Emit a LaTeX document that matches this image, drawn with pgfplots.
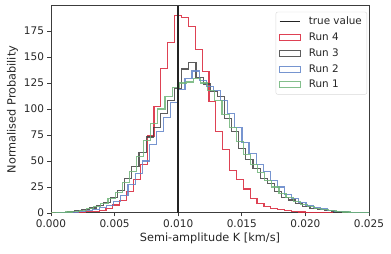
\documentclass[border=0pt]{standalone}
\usepackage{fontspec}
\setmainfont{DejaVu Sans}
\usepackage{pgfplots}
\usepackage{pgfplotstable}
\pgfplotsset{compat=1.18}
\definecolor{runred}{RGB}{218,45,65}
\definecolor{rungray}{RGB}{65,65,65}
\definecolor{runblue}{RGB}{95,130,200}
\definecolor{rungreen}{RGB}{110,180,120}
\definecolor{spine}{RGB}{60,60,60}
\definecolor{ticktext}{RGB}{38,38,38}
\definecolor{trueline}{RGB}{35,35,35}
\pgfplotsset{
  boxlegend/.style={legend image code/.code={\draw[##1, sharp corners] (0pt,-3pt) rectangle (20.5pt,3pt);}},
  linelegend/.style={legend image code/.code={\draw[##1, sharp corners] (0pt,0pt) -- (20.5pt,0pt);}},
}

% Run 4 (red)
\pgfplotstableread{
x y
0.00000 0
0.00000 0.1
0.00054 0.2
0.00108 0.3
0.00162 0.5
0.00216 0.8
0.00270 1.2
0.00324 1.8
0.00378 2.8
0.00432 4.5
0.00486 7.7
0.00540 12
0.00594 21
0.00648 32
0.00702 47
0.00756 74
0.00810 102
0.00864 139
0.00918 164
0.00972 190
0.01026 188
0.01080 179
0.01134 157
0.01188 136
0.01242 107
0.01296 78
0.01350 61
0.01404 41
0.01458 32
0.01512 23
0.01566 14
0.01620 9
0.01674 6.5
0.01728 4.5
0.01782 3
0.01836 2
0.01890 1.4
0.01944 0.9
0.01998 0.6
0.02052 0.4
0.02106 0.2
0.02160 0.1
0.02214 0
}\runfour

% Run 3 (gray)
\pgfplotstableread{
x y
0.00020 0
0.00020 0.3
0.00076 0.6
0.00132 1.2
0.00188 2
0.00244 3.2
0.00300 4.8
0.00356 7.5
0.00412 10.5
0.00468 15
0.00524 22
0.00580 33
0.00636 45
0.00692 58
0.00748 73
0.00804 82
0.00860 96
0.00916 108
0.00972 120
0.01028 138.5
0.01084 144.5
0.01140 130
0.01196 124
0.01252 117
0.01308 112
0.01364 91
0.01420 78
0.01476 62
0.01532 51.5
0.01588 43
0.01644 33
0.01700 28.5
0.01756 21
0.01812 15
0.01868 12.5
0.01924 9
0.01980 6
0.02036 4.5
0.02092 3
0.02148 2
0.02204 1.4
0.02260 1
0.02316 0.7
0.02372 0.5
0.02428 0.3
0.02484 0.2
0.02540 0
}\runthree

% Run 2 (blue)
\pgfplotstableread{
x y
0.00045 0
0.00045 0.2
0.00101 0.4
0.00157 0.8
0.00213 1.4
0.00269 2.2
0.00325 3.3
0.00381 5
0.00437 7.5
0.00493 11
0.00549 17
0.00605 27
0.00661 38
0.00717 50
0.00773 66
0.00829 78
0.00885 92
0.00941 106
0.00997 119
0.01053 129.5
0.01109 136.5
0.01165 127
0.01221 122
0.01277 118
0.01333 108
0.01389 96
0.01445 82
0.01501 68
0.01557 57
0.01613 47
0.01669 40
0.01725 31
0.01781 25
0.01837 18
0.01893 14
0.01949 10
0.02005 7.5
0.02061 5.5
0.02117 3.8
0.02173 2.6
0.02229 1.8
0.02285 1.2
0.02341 0.8
0.02397 0.5
0.02453 0.3
0.02509 0
}\runtwo

% Run 1 (green)
\pgfplotstableread{
x y
0.00000 0
0.00000 0.3
0.00056 0.6
0.00112 1
0.00168 1.6
0.00224 2.5
0.00280 4
0.00336 6
0.00392 9
0.00448 14
0.00504 20
0.00560 29
0.00616 40
0.00672 54
0.00728 70
0.00784 86
0.00840 100
0.00896 112
0.00952 121
0.01008 125
0.01064 126
0.01120 129.5
0.01176 125
0.01232 118
0.01288 108
0.01344 95
0.01400 82
0.01456 69
0.01512 56
0.01568 47
0.01624 39
0.01680 31
0.01736 25
0.01792 19
0.01848 14.5
0.01904 11
0.01960 8
0.02016 6
0.02072 4.2
0.02128 3
0.02184 2
0.02240 1.4
0.02296 1
0.02352 0.6
0.02408 0.4
0.02464 0.2
0.02520 0
}\runone

\begin{document}
\begin{tikzpicture}
\useasboundingbox (0,0) rectangle (391pt,254pt);
\begin{axis}[
  at={(51pt,41pt)}, anchor=south west,
  scale only axis, width=318pt, height=207pt,
  xmin=0, xmax=0.025, ymin=0, ymax=199,
  xtick={0,0.005,0.01,0.015,0.02,0.025},
  ytick={0,25,50,75,100,125,150,175},
  scaled x ticks=false,
  xticklabel style={/pgf/number format/.cd, fixed, fixed zerofill, precision=3},
  /pgf/number format/assume math mode=true,
  tick label style={font=\fontsize{10.5}{12}\selectfont, color=ticktext},
  label style={font=\fontsize{11.3}{13}\selectfont, color=ticktext},
  xlabel={Semi-amplitude K [km/s]},
  ylabel={Normalised Probability},
  xlabel style={yshift=2pt},
  ylabel style={yshift=-1pt},
  axis line style={spine, line width=1pt},
  tick style={spine, line width=0.9pt},
  tick align=outside, major tick length=3.5pt,
  xtick pos=left, ytick pos=left,
  legend style={at={(0.994,0.972)}, anchor=north east, draw=gray!30, rounded corners=2pt,
    fill=white, fill opacity=0.85, text opacity=1, font=\fontsize{10.4}{12}\selectfont,
    row sep=2.6pt, column sep=6pt, inner xsep=3pt, inner ysep=3pt, text=ticktext},
  legend cell align=left,
]
\addlegendimage{trueline, line width=1.5pt, linelegend}
\addlegendentry{true value}
\addplot[const plot, runred, line width=1.15pt, opacity=0.9, boxlegend] table {\runfour};
\addlegendentry{Run 4}
\addplot[const plot, rungray, line width=1.15pt, opacity=0.85, boxlegend] table {\runthree};
\addlegendentry{Run 3}
\addplot[const plot, runblue, line width=1.15pt, opacity=0.85, boxlegend] table {\runtwo};
\addlegendentry{Run 2}
\addplot[const plot, rungreen, line width=1.15pt, opacity=0.85, boxlegend] table {\runone};
\addlegendentry{Run 1}
\addplot[trueline, line width=1.6pt, forget plot] coordinates {(0.01,0) (0.01,199)};
\end{axis}
\end{tikzpicture}
\end{document}
